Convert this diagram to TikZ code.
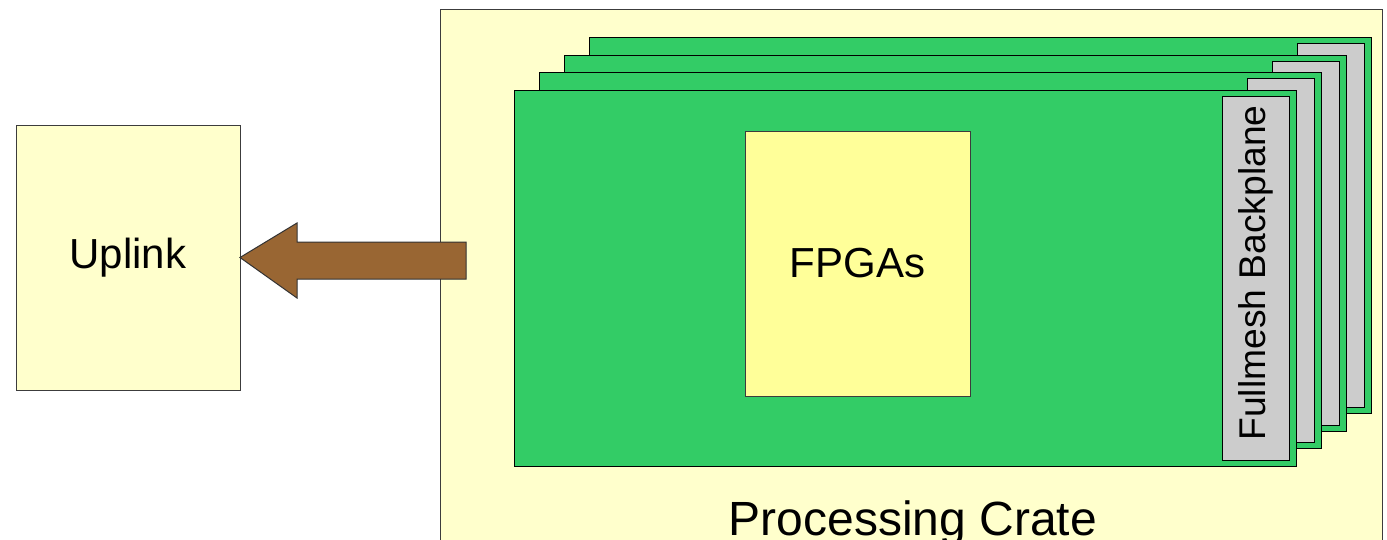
\documentclass[tikz,border=0pt]{standalone}
\usepackage{fontspec}
\setmainfont{Liberation Sans}
\definecolor{paleyellow}{HTML}{FFFFCC}
\definecolor{cardgreen}{HTML}{33CC66}
\definecolor{bpgray}{HTML}{CCCCCC}
\definecolor{fpgayellow}{HTML}{FFFF99}
\definecolor{arrowbrown}{HTML}{996633}
\definecolor{edgegray}{HTML}{3C3C3C}
\tikzset{
  boxbase/.style={draw=edgegray, line width=1pt, inner sep=0pt, outer sep=0pt, anchor=north west},
  cardbox/.style={boxbase, fill=cardgreen, draw=black, minimum width=782pt, minimum height=376pt},
  bpbox/.style={boxbase, fill=bpgray, draw=black, minimum width=67pt, minimum height=364pt},
  bigtext/.style={font=\fontsize{42}{50}\selectfont},
}
\begin{document}
\begin{tikzpicture}[x=1pt,y=-1pt]
\useasboundingbox (0,0) rectangle (1387,539);
\clip (0,0) rectangle (1387,539);
\fill[white] (0,0) rectangle (1387,539);
% crate
\node[boxbase, fill=paleyellow, minimum width=942pt, minimum height=560pt] (crate) at (440,9) {};
\node[font=\fontsize{48}{56}\selectfont, anchor=base] (cratelabel) at (913,535) {Processing Crate};
% uplink
\node[boxbase, fill=paleyellow, minimum width=224pt, minimum height=265pt] (uplink) at (16,125) {};
\node[bigtext] (uplinklabel) at (uplink.center) {Uplink};
% arrow
\draw[draw=black!80, fill=arrowbrown, line width=1pt, line join=miter]
  (uplink.east) -- (297,223) -- (297,242) -- (466,242) -- (466,279) -- (297,279) -- (297,298) -- cycle;
% cards, back to front
\foreach \k in {3,2,1,0}{
  \node[cardbox] (card\k) at ({514+25*\k},{90-17.5*\k}) {};
  \node[bpbox] (bp\k) at ({514+25*\k+708},{90-17.5*\k+6}) {};
}
\node[rotate=90, font=\fontsize{37.2}{44}\selectfont] (bplabel) at ([yshift=5pt]bp0.center) {Fullmesh Backplane};
% FPGAs
\node[boxbase, fill=fpgayellow, minimum width=225pt, minimum height=265pt] (fpga) at (745,131) {};
\node[bigtext] (fpgalabel) at (fpga.center) {FPGAs};
\end{tikzpicture}
\end{document}
